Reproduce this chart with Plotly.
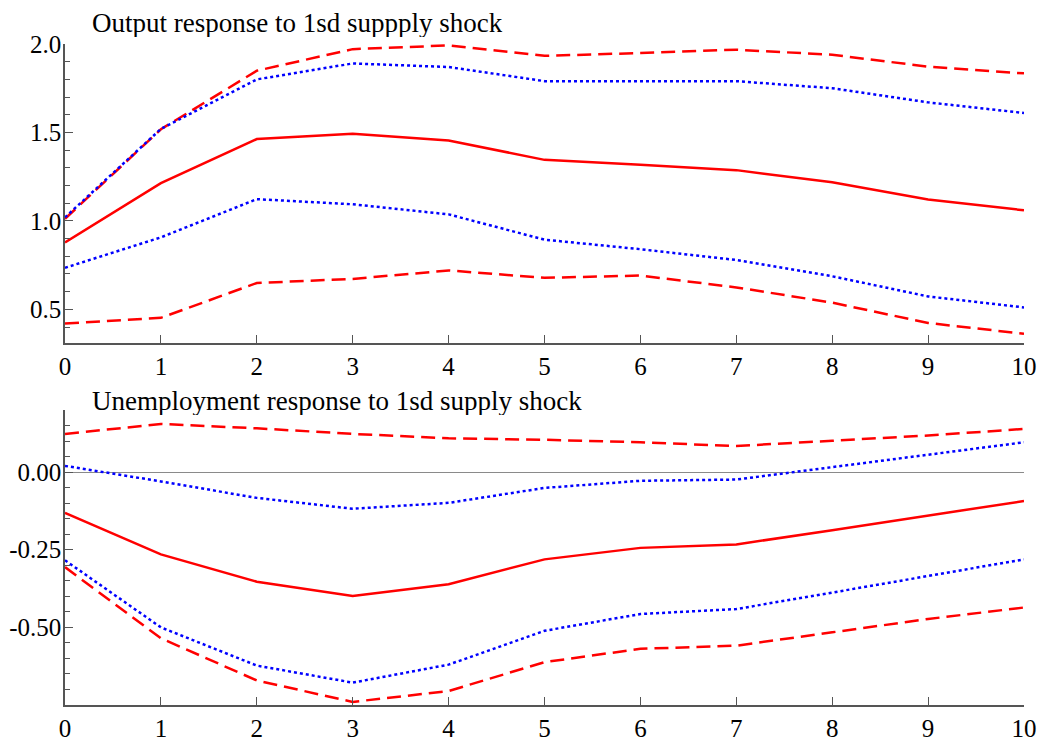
import plotly.graph_objects as go
from plotly.subplots import make_subplots

horizons = list(range(11))

# Output response to supply shock
out_mid = [0.878, 1.213, 1.463, 1.492, 1.455, 1.345, 1.318, 1.287, 1.218, 1.121, 1.060]
out_hi68 = [1.020, 1.520, 1.800, 1.890, 1.870, 1.790, 1.790, 1.790, 1.750, 1.670, 1.610]
out_lo68 = [0.735, 0.907, 1.123, 1.094, 1.037, 0.894, 0.840, 0.779, 0.687, 0.573, 0.511]
out_hi95 = [1.012, 1.518, 1.849, 1.971, 1.992, 1.933, 1.949, 1.968, 1.939, 1.872, 1.834]
out_lo95 = [0.420, 0.452, 0.649, 0.672, 0.720, 0.678, 0.691, 0.624, 0.538, 0.423, 0.362]

# Unemployment response to supply shock
un_mid = [-0.131, -0.265, -0.353, -0.399, -0.361, -0.281, -0.244, -0.233, -0.187, -0.140, -0.093]
un_hi68 = [0.020, -0.030, -0.083, -0.118, -0.099, -0.051, -0.028, -0.024, 0.016, 0.056, 0.096]
un_lo68 = [-0.284, -0.500, -0.623, -0.678, -0.620, -0.511, -0.457, -0.441, -0.388, -0.334, -0.281]
un_hi95 = [0.123, 0.155, 0.141, 0.123, 0.109, 0.104, 0.096, 0.084, 0.101, 0.118, 0.139]
un_lo95 = [-0.306, -0.535, -0.671, -0.740, -0.705, -0.612, -0.569, -0.559, -0.516, -0.473, -0.436]

titles = ["Output response to 1sd suppply shock", "Unemployment response to 1sd supply shock"]
top_ticks = [0.5, 1.0, 1.5, 2.0]
top_ticktext = ["0.5", "1.0", "1.5", "2.0"]
bot_ticks = [-0.5, -0.25, 0.0]
bot_ticktext = ["-0.50", "-0.25", "0.00"]
x_ticks = list(range(11))

RED = "#ff0000"
BLUE = "#0000ff"
FONT = "Liberation Serif"
AXC = "#555555"

fig = make_subplots(rows=2, cols=1, vertical_spacing=0.1)

def add_panel(row, mid, hi68, lo68, hi95, lo95):
    for ys, color, dash in [(hi95, RED, "14px,7px"), (hi68, BLUE, "3px,3px"),
                            (mid, RED, "solid"), (lo68, BLUE, "3px,3px"),
                            (lo95, RED, "14px,7px")]:
        fig.add_trace(go.Scatter(x=horizons, y=ys, mode="lines",
                                 line=dict(color=color, dash=dash, width=2.5),
                                 showlegend=False, hoverinfo="skip"), row=row, col=1)

add_panel(1, out_mid, out_hi68, out_lo68, out_hi95, out_lo95)
add_panel(2, un_mid, un_hi68, un_lo68, un_hi95, un_lo95)

axis_common = dict(showgrid=False, showline=True, linecolor=AXC, linewidth=1.5,
                   ticks="inside", tickcolor=AXC, ticklen=8, tickwidth=1.2,
                   tickfont=dict(family=FONT, size=25, color="black"), mirror=False,
                   automargin=False)

for r in (1, 2):
    fig.update_xaxes(range=[0, 10], tickvals=x_ticks, zeroline=False, **axis_common, row=r, col=1)

fig.update_yaxes(range=[0.31, 2.0], tickvals=top_ticks, ticktext=top_ticktext, zeroline=False,
                 minor=dict(ticks="inside", dtick=0.1, tick0=0, ticklen=5, tickcolor=AXC),
                 ticklabelstandoff=-3, **axis_common, row=1, col=1)
fig.update_yaxes(range=[-0.75, 0.2], tickvals=bot_ticks, ticktext=bot_ticktext,
                 zeroline=True, zerolinecolor="#8a8a8a", zerolinewidth=1,
                 minor=dict(ticks="inside", dtick=0.05, tick0=0, ticklen=5, tickcolor=AXC),
                 ticklabelstandoff=-3, **axis_common, row=2, col=1)

fig.update_layout(
    xaxis=dict(domain=[0, 1]), yaxis=dict(domain=[0.5477, 1.0]),
    xaxis2=dict(domain=[0, 1]), yaxis2=dict(domain=[0.0, 0.4463]),
    width=1029, height=734,
    margin=dict(l=57, r=13, t=36, b=37),
    paper_bgcolor="white", plot_bgcolor="white",
    font=dict(family=FONT, size=25, color="black"),
    showlegend=False,
)

fig.add_annotation(text=titles[0], xref="paper", yref="paper", x=0.026, y=1.0318,
                   xanchor="left", yanchor="middle", showarrow=False, height=28,
                   font=dict(family=FONT, size=27, color="black"))
fig.add_annotation(text=titles[1], xref="paper", yref="paper", x=0.026, y=0.4599,
                   xanchor="left", yanchor="middle", showarrow=False, height=28,
                   font=dict(family=FONT, size=27, color="black"))

fig.write_html("out.html")
